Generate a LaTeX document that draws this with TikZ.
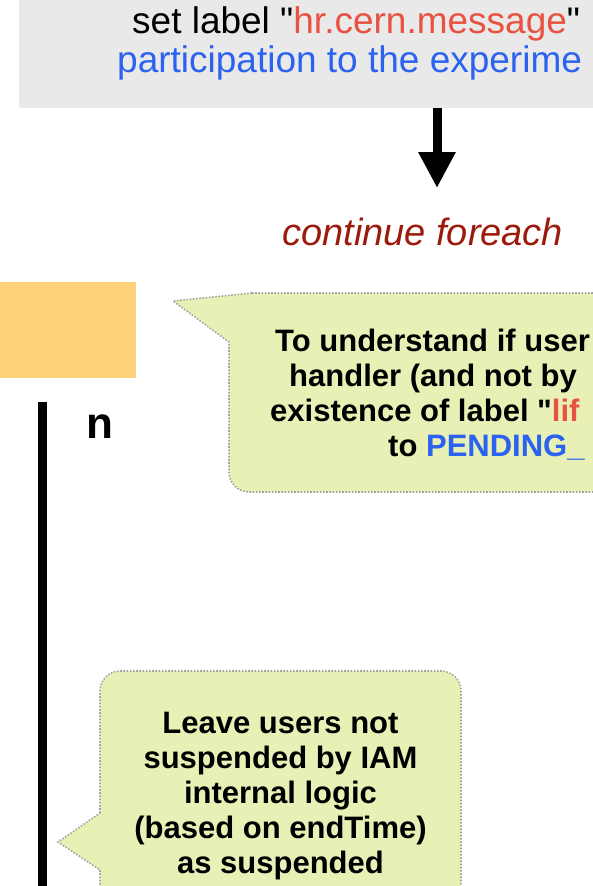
\documentclass[tikz,border=0pt]{standalone}
\usepackage{fontspec}
\setmainfont{Liberation Sans}[Ligatures=TeXOff]
\usetikzlibrary{arrows.meta}
\definecolor{stepgray}{HTML}{E9E9E9}
\definecolor{msgred}{HTML}{E95140}
\definecolor{linkblue}{HTML}{2B63F0}
\definecolor{loopred}{HTML}{9C1A0C}
\definecolor{choiceorange}{HTML}{FDD27B}
\definecolor{notegreen}{HTML}{E8F0B6}
\definecolor{notedot}{HTML}{A3A3A3}
\tikzset{note/.style={fill=notegreen, draw=notedot, line width=1.6pt,
                      dash pattern=on 1.6pt off 1.6pt},
    notetext/.style={font=\fontsize{31}{35}\selectfont\bfseries, inner sep=0pt},
    steptext/.style={font=\fontsize{37}{40}\selectfont, inner sep=0pt, anchor=base west},
    flow/.style={line width=9pt, -{Triangle[width=35pt,length=36pt]}}}

\begin{document}
\begin{tikzpicture}[x=1pt,y=-1pt]
  \useasboundingbox (0,0) rectangle (593,886);
  \clip (0,0) rectangle (593,886);
  % step box, cut by the frame
  \fill[stepgray] (19,-20) rectangle (640,108);
  \node[steptext] (setlabel) at (132,33)
      {set label "\textcolor{msgred}{hr.cern.message}"};
  \node[steptext, text=linkblue] (participation) at (117,72)
      {participation to the experime};
  \coordinate (steptail) at (437,108);
  \coordinate (stephead) at (437,188);
  \draw[flow] (steptail) -- (stephead);
  \node[anchor=base west, inner sep=0pt, text=loopred,
        font=\fontsize{38}{40}\selectfont\itshape] (continue) at (282,245)
      {continue foreach};
  % decision box and its "no" branch
  \node[fill=choiceorange, minimum width=156pt, minimum height=96pt,
        inner sep=0pt, anchor=north east] (decision) at (136,282) {};
  \coordinate (nostart) at (42.5,402);
  \coordinate (noend) at (42.5,900);
  \draw[line width=9pt] (nostart) -- (noend);
  \node[anchor=base west, inner sep=0pt,
        font=\fontsize{44}{44}\selectfont\bfseries] (nolabel) at (86,438) {n};
  % first note
  \draw[note] (252,293) -- (640,293) -- (640,492) -- (249,492)
      arc[start angle=90, end angle=180, radius=20] -- (229,342)
      -- (173,301) -- cycle;
  \node[notetext, anchor=base west] (lineA) at (275,351) {To understand if user};
  \node[notetext, anchor=base west] (lineB) at (289,386) {handler (and not by};
  \node[notetext, anchor=base west] (lineC) at (270,421)
      {existence of label "\textcolor{msgred}{lif}};
  \node[notetext, anchor=base west] (lineD) at (388,456)
      {to \textcolor{linkblue}{PENDING\_}};
  % second note
  \draw[note] (100,813) -- (100,691)
      arc[start angle=180, end angle=270, radius=20] -- (441,671)
      arc[start angle=270, end angle=360, radius=20] -- (461,900)
      -- (100,900) -- (100,870) -- (58,842) -- cycle;
  \node[notetext, align=center] (leave) at (280.5,796)
      {Leave users not\\suspended by IAM\\internal logic\\(based on endTime)\\as suspended};
\end{tikzpicture}
\end{document}
